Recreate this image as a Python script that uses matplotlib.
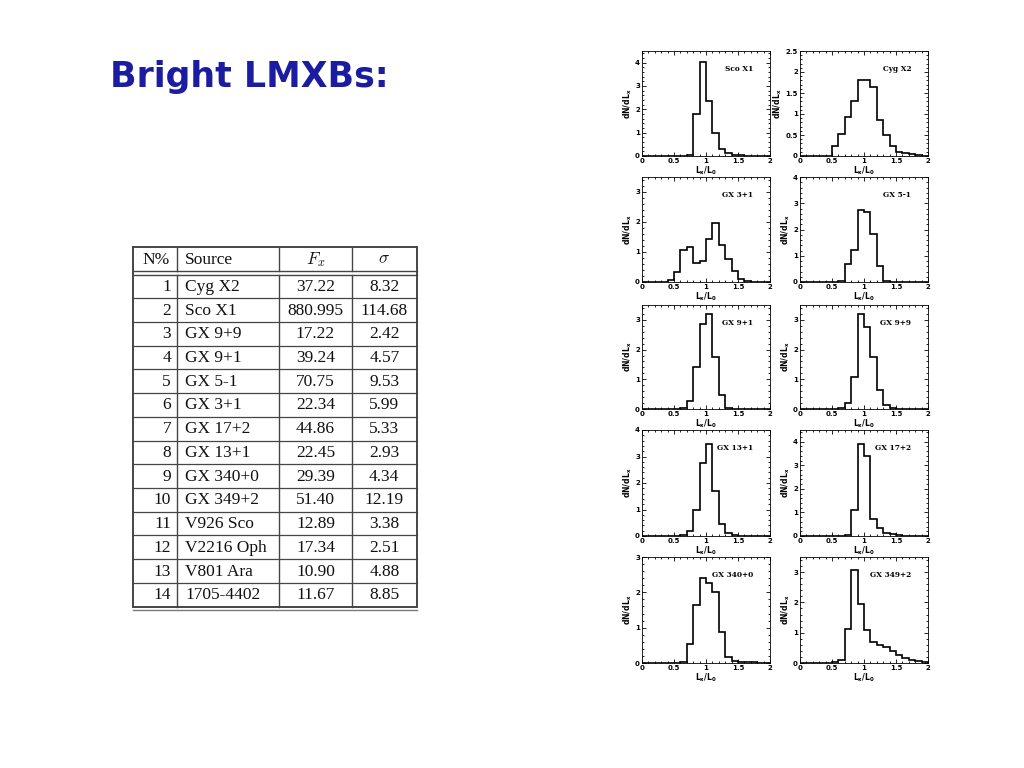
import numpy as np
import matplotlib
matplotlib.use("Agg")
import matplotlib.pyplot as plt
from matplotlib.ticker import MultipleLocator, AutoMinorLocator, FuncFormatter

# ---------------- data ----------------
title_text = "Bright LMXBs:"

tab_n = [1, 2, 3, 4, 5, 6, 7, 8, 9, 10, 11, 12, 13, 14]
tab_source = ["Cyg X2", "Sco X1", "GX 9+9", "GX 9+1", "GX 5-1", "GX 3+1", "GX 17+2",
              "GX 13+1", "GX 340+0", "GX 349+2", "V926 Sco", "V2216 Oph", "V801 Ara",
              "1705-4402"]
tab_fx = ["37.22", "880.995", "17.22", "39.24", "70.75", "22.34", "44.86", "22.45",
          "29.39", "51.40", "12.89", "17.34", "10.90", "11.67"]
tab_sigma = ["8.32", "114.68", "2.42", "4.57", "9.53", "5.99", "5.33", "2.93",
             "4.34", "12.19", "3.38", "2.51", "4.88", "8.85"]
tab_header = ["N%", "Source", r"$F_x$", r"$\sigma$"]

bin_edges = np.round(np.arange(0, 2.0001, 0.1), 2)

panel_names = ["Sco X1", "Cyg X2", "GX 3+1", "GX 5-1", "GX 9+1", "GX 9+9",
               "GX 13+1", "GX 17+2", "GX 340+0", "GX 349+2"]
sco_x1 = [0, 0, 0, 0, 0, 0, 0, 0.05, 1.8, 4.05, 2.35, 1.0, 0.3, 0.15, 0.05, 0.03, 0.02, 0.02, 0.02, 0.02]
cyg_x2 = [0, 0, 0, 0, 0, 0.23, 0.53, 0.92, 1.3, 1.8, 1.8, 1.65, 0.85, 0.5, 0.24, 0.1, 0.06, 0.04, 0.02, 0.01]
gx_3p1 = [0, 0, 0, 0, 0.08, 0.33, 1.08, 1.17, 0.62, 0.71, 1.44, 1.97, 1.23, 0.76, 0.36, 0.1, 0.03, 0, 0, 0]
gx_5m1 = [0, 0, 0, 0, 0, 0, 0.05, 0.69, 1.23, 2.76, 2.65, 1.83, 0.62, 0.02, 0, 0, 0, 0, 0, 0]
gx_9p1 = [0, 0, 0, 0, 0, 0, 0.03, 0.27, 1.43, 2.87, 3.19, 1.74, 0.48, 0.03, 0, 0, 0, 0, 0, 0]
gx_9p9 = [0, 0, 0, 0, 0, 0, 0.02, 0.19, 1.08, 3.19, 2.75, 1.76, 0.64, 0.14, 0.05, 0, 0, 0, 0, 0]
gx_13p1 = [0, 0, 0, 0, 0, 0, 0.05, 0.19, 0.99, 2.77, 3.49, 1.69, 0.47, 0.1, 0.02, 0, 0, 0, 0, 0]
gx_17p2 = [0, 0, 0, 0, 0, 0, 0, 0.05, 1.11, 3.9, 3.39, 0.72, 0.32, 0.14, 0.08, 0.04, 0, 0, 0, 0]
gx_340p0 = [0, 0, 0, 0, 0, 0, 0.03, 0.55, 1.65, 2.4, 2.26, 2.02, 0.87, 0.17, 0.05, 0.03, 0.02, 0.02, 0.01, 0]
gx_349p2 = [0, 0, 0, 0, 0, 0.03, 0.11, 1.12, 3.08, 1.96, 1.09, 0.69, 0.58, 0.53, 0.38, 0.27, 0.18, 0.1, 0.05, 0.02]
panel_values = [sco_x1, cyg_x2, gx_3p1, gx_5m1, gx_9p1, gx_9p9, gx_13p1, gx_17p2, gx_340p0, gx_349p2]
panel_ymax = [4.5, 2.5, 3.5, 4, 3.5, 3.5, 4, 4.5, 3, 3.5]
panel_ystep = [1, 0.5, 1, 1, 1, 1, 1, 1, 1, 1]

# ---------------- figure ----------------
W, H = 1024, 768
fig = plt.figure(figsize=(W / 100, H / 100), dpi=100)
fig.patch.set_facecolor("white")

canvas = fig.add_axes([0, 0, 1, 1])
canvas.set_xlim(0, W)
canvas.set_ylim(H, 0)
canvas.axis("off")

# title
canvas.text(110, 87, title_text, fontsize=25, fontweight="bold", color="#1c1ca0",
            family="DejaVu Sans", va="baseline", ha="left")

# ---------------- table ----------------
tx0, tx1 = 132.5, 416.5
col_x = [132.5, 176.5, 279.0, 352.0, 416.5]
ty_top = 246.5
ty_head = 271.0
ty_rows0 = 274.5
row_h = 23.72
nrows = len(tab_n)
ty_bot = ty_rows0 + nrows * row_h

lc = "#454545"
canvas.plot([tx0, tx1, tx1, tx0, tx0], [ty_top, ty_top, ty_bot, ty_bot, ty_top],
            color=lc, lw=1.4, solid_joinstyle="miter")
canvas.plot([tx0, tx1], [ty_head, ty_head], color=lc, lw=1.0)
canvas.plot([tx0, tx1], [ty_rows0, ty_rows0], color=lc, lw=1.0)
canvas.plot([tx0, tx1], [ty_bot + 3.3, ty_bot + 3.3], color="#7a7a7a", lw=1.0)
for cx in col_x[1:-1]:
    canvas.plot([cx, cx], [ty_top, ty_head], color=lc, lw=1.0)
    canvas.plot([cx, cx], [ty_rows0, ty_bot], color=lc, lw=1.0)
for i in range(1, nrows):
    yy = ty_rows0 + i * row_h
    canvas.plot([tx0, tx1], [yy, yy], color=lc, lw=0.9)

tfont = dict(family="Liberation Serif", fontsize=12.5, color="#111111")
hy = (ty_top + ty_head) / 2 + 1
canvas.text(156, hy, tab_header[0], ha="center", va="center", **tfont)
canvas.text(185, hy, tab_header[1], ha="left", va="center", **tfont)
canvas.text((col_x[2] + col_x[3]) / 2, hy, tab_header[2], ha="center", va="center",
            math_fontfamily="cm", **tfont)
canvas.text((col_x[3] + col_x[4]) / 2, hy, tab_header[3], ha="center", va="center",
            math_fontfamily="cm", **tfont)
for i in range(nrows):
    yc = ty_rows0 + (i + 0.5) * row_h + 0.5
    canvas.text(171, yc, str(tab_n[i]), ha="right", va="center", **tfont)
    canvas.text(185, yc, tab_source[i], ha="left", va="center", **tfont)
    canvas.text((col_x[2] + col_x[3]) / 2, yc, tab_fx[i], ha="center", va="center", **tfont)
    canvas.text((col_x[3] + col_x[4]) / 2, yc, tab_sigma[i], ha="center", va="center", **tfont)

# ---------------- histogram panels ----------------
col_left = [642, 800]
ax_w = 128
row_tb = [(51, 156), (177, 282), (305, 409), (430, 536), (557, 663)]

fmt = FuncFormatter(lambda v, p: "%g" % v)
for k, name in enumerate(panel_names):
    r, c = divmod(k, 2)
    top, bot = row_tb[r]
    ax = fig.add_axes([col_left[c] / W, 1 - bot / H, ax_w / W, (bot - top) / H])
    ax.stairs(panel_values[k], bin_edges, color="black", lw=1.2, baseline=0)
    ax.set_xlim(0, 2)
    ax.set_ylim(0, panel_ymax[k])
    ax.xaxis.set_major_locator(MultipleLocator(0.5))
    ax.xaxis.set_minor_locator(MultipleLocator(0.1))
    ax.yaxis.set_major_locator(MultipleLocator(panel_ystep[k]))
    ax.yaxis.set_minor_locator(AutoMinorLocator(5))
    ax.xaxis.set_major_formatter(fmt)
    ax.yaxis.set_major_formatter(fmt)
    ax.tick_params(which="both", direction="in", top=True, right=True, width=0.6,
                   labelsize=5, pad=1.5)
    ax.tick_params(which="major", length=3)
    ax.tick_params(which="minor", length=1.5)
    for lab in ax.get_xticklabels() + ax.get_yticklabels():
        lab.set_fontweight("bold")
    for sp in ax.spines.values():
        sp.set_linewidth(0.6)
    ax.set_xlabel(r"$\mathbf{L_x/L_0}$", fontsize=5.5, labelpad=0)
    ax.set_ylabel(r"$\mathbf{dN/dL_x}$", fontsize=5.5, labelpad=1)
    ax.text(0.87, 0.83, name, transform=ax.transAxes, ha="right", va="center",
            fontsize=5.3, fontweight="bold", family="DejaVu Serif")

fig.savefig("out.png", dpi=100, facecolor="white")
